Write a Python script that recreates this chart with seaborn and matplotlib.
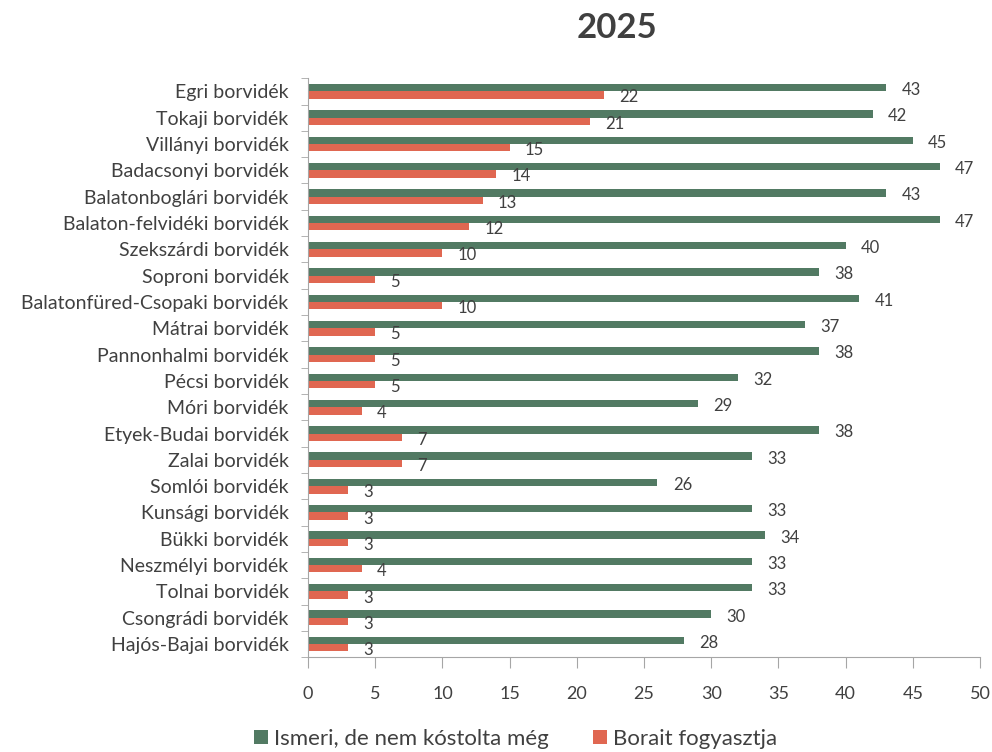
import numpy as np
import pandas as pd
import matplotlib.pyplot as plt
import seaborn as sns

regions = ["Egri borvidék", "Tokaji borvidék", "Villányi borvidék", "Badacsonyi borvidék",
           "Balatonboglári borvidék", "Balaton-felvidéki borvidék", "Szekszárdi borvidék",
           "Soproni borvidék", "Balatonfüred-Csopaki borvidék", "Mátrai borvidék",
           "Pannonhalmi borvidék", "Pécsi borvidék", "Móri borvidék", "Etyek-Budai borvidék",
           "Zalai borvidék", "Somlói borvidék", "Kunsági borvidék", "Bükki borvidék",
           "Neszmélyi borvidék", "Tolnai borvidék", "Csongrádi borvidék", "Hajós-Bajai borvidék"]
ismeri = [43, 42, 45, 47, 43, 47, 40, 38, 41, 37, 38, 32, 29, 38, 33, 26, 33, 34, 33, 33, 30, 28]
fogyasztja = [22, 21, 15, 14, 13, 12, 10, 5, 10, 5, 5, 5, 4, 7, 7, 3, 3, 3, 4, 3, 3, 3]
series = ["Ismeri, de nem kóstolta még", "Borait fogyasztja"]
xticks = [0, 5, 10, 15, 20, 25, 30, 35, 40, 45, 50]

df = pd.DataFrame({
    "region": regions * 2,
    "value": ismeri + fogyasztja,
    "series": [series[0]] * len(regions) + [series[1]] * len(regions),
})

sns.set_style("white")
plt.rcParams['font.family'] = ['Lato', 'DejaVu Sans']
txt = "#404040"
grey = "#a6a6a6"

fig = plt.figure(figsize=(9.92, 7.52), dpi=100)
ax = fig.add_axes([0.3105, 0.126, 0.6775, 0.77])

sns.barplot(data=df, y="region", x="value", hue="series", orient="h",
            palette=["#527A63", "#E06751"], width=0.56, linewidth=0,
            saturation=1, ax=ax, legend=True)

# value labels sit a bit right of and below the bar end
for c in ax.containers:
    labels = ax.bar_label(c, padding=11, fontsize=12, color=txt)
    for t in labels:
        t.set_va("top")
        t.xyann = (t.xyann[0], 4)

ax.set_xlim(0, 50)
ax.set_ylim(len(regions) - 0.5, -0.5)
ax.set_xticks(xticks)
ax.set_xlabel("")
ax.set_ylabel("")
ax.tick_params(axis="x", direction="out", length=8, color=grey, pad=13,
               labelsize=13, labelcolor=txt, bottom=True)
ax.tick_params(axis="y", which="major", length=0, pad=14, labelsize=14, labelcolor=txt)
ax.set_yticks(np.arange(-0.5, len(regions), 1), minor=True)
ax.tick_params(axis="y", which="minor", direction="out", length=5, color=grey, left=True)
for s in ["top", "right"]:
    ax.spines[s].set_visible(False)
for s in ["left", "bottom"]:
    ax.spines[s].set_color(grey)

handles, labs = ax.get_legend_handles_labels()
ax.get_legend().remove()
fig.legend(handles, labs, loc="lower center", bbox_to_anchor=(0.52, -0.022), ncol=2,
           frameon=False, fontsize=16, labelcolor=txt, handlelength=0.6, handleheight=0.6,
           handletextpad=0.3, columnspacing=2.0)

fig.text(0.622, 0.963, "2025", ha="center", va="center", fontsize=25,
         fontweight="bold", color=txt)

fig.savefig("out.png", dpi=100)
